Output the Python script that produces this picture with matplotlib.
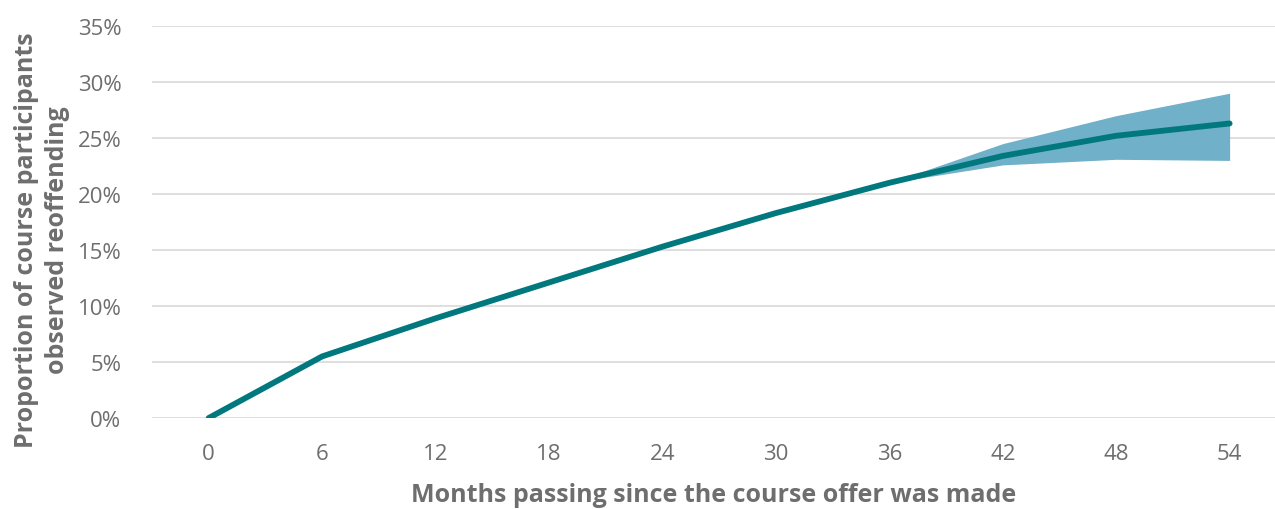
import matplotlib.pyplot as plt
from matplotlib.ticker import FuncFormatter

plt.rcParams['font.family'] = ['Open Sans', 'DejaVu Sans']

# data
months = [0, 6, 12, 18, 24, 30, 36, 42, 48, 54]
reoffending = [0.0, 5.5, 8.9, 12.1, 15.3, 18.3, 21.0, 23.4, 25.2, 26.3]

band_months = [36, 42, 48, 54]
band_lower = [21.0, 22.6, 23.1, 23.0]
band_upper = [21.0, 24.5, 27.0, 29.0]

yticks = [0, 5, 10, 15, 20, 25, 30, 35]

fig = plt.figure(figsize=(12.75, 5.1), dpi=100)
ax = fig.add_axes([0.1192, 0.1784, 0.8808, 0.7686])

# confidence band and main line
ax.fill_between(band_months, band_lower, band_upper, color="#70B0C8", linewidth=0, zorder=2)
ax.plot(months, reoffending, color="#00787E", linewidth=4.2, solid_capstyle="round", zorder=3)

ax.set_xlim(-3, 56.4)
ax.set_ylim(0, 35)
ax.set_xticks(months)
ax.set_yticks(yticks)
ax.yaxis.set_major_formatter(FuncFormatter(lambda v, p: f"{v:.0f}%"))

ax.grid(axis="y", color="#D9D9D9", linewidth=1.2, zorder=0)
ax.set_axisbelow(True)
for s in ax.spines.values():
    s.set_visible(False)

ax.tick_params(axis="both", length=0, labelsize=16, labelcolor="#6E6E6E")
ax.tick_params(axis="y", pad=22)
ax.tick_params(axis="x", pad=18)

ax.set_xlabel("Months passing since the course offer was made",
              fontsize=18, fontweight="bold", color="#6E6E6E", labelpad=13)
ax.set_ylabel("Proportion of course participants\nobserved reoffending",
              fontsize=18, fontweight="bold", color="#6E6E6E",
              linespacing=1.3, va="center")
ax.yaxis.set_label_coords(-0.098, 0.456)

plt.savefig("out.png", dpi=100)
